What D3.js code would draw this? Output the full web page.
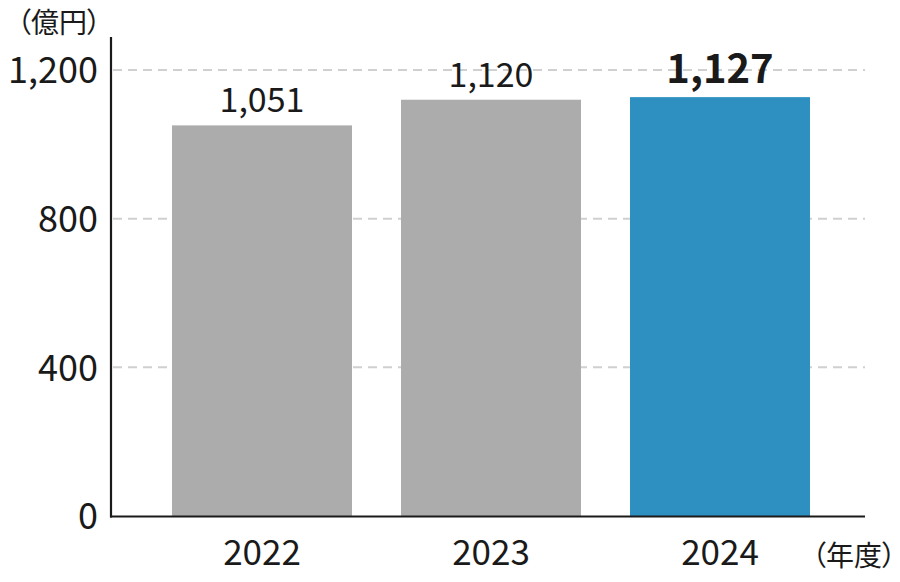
<!DOCTYPE html>
<html>
<head>
<meta charset="utf-8">
<script src="https://cdn.jsdelivr.net/npm/d3@7"></script>
<style>
  html, body { margin: 0; padding: 0; background: #fff; }
  svg { display: block; font-family: "Noto Sans CJK JP", "Noto Sans", sans-serif; }
  .unit { font-feature-settings: "palt" 1; }
</style>
</head>
<body>
<svg id="chart" width="900" height="582"></svg>
<script>
const years = ["2022", "2023", "2024"];
const values = [1051, 1120, 1127];
const valueLabels = ["1,051", "1,120", "1,127"];
const highlight = [false, false, true];
const yTicks = [0, 400, 800, 1200];
const yTickLabels = ["0", "400", "800", "1,200"];
const yUnit = "（億円）";
const xUnit = "（年度）";

const svg = d3.select("#chart");
const ink = "#1a1a1a";

const x = d3.scaleBand()
  .domain(years)
  .range([147.5, 834.5])
  .paddingInner(0.214)
  .paddingOuter(0.107);

const y = d3.scaleLinear().domain([0, 1200]).range([516, 70]);

// gridlines
svg.append("g")
  .selectAll("line")
  .data(yTicks.filter(d => d > 0))
  .join("line")
  .attr("x1", 113).attr("x2", 865)
  .attr("y1", d => y(d)).attr("y2", d => y(d))
  .attr("stroke", "#d0d0d0")
  .attr("stroke-width", 2)
  .attr("stroke-dasharray", "9 6");

// bars
svg.append("g")
  .selectAll("rect")
  .data(years)
  .join("rect")
  .attr("x", d => x(d))
  .attr("width", x.bandwidth())
  .attr("y", (d, i) => y(values[i]))
  .attr("height", (d, i) => y(0) - y(values[i]))
  .attr("fill", (d, i) => highlight[i] ? "#2e8fc1" : "#acacac");

// value labels
svg.append("g")
  .selectAll("text")
  .data(years)
  .join("text")
  .attr("x", d => x(d) + x.bandwidth() / 2)
  .attr("y", (d, i) => y(values[i]) - (highlight[i] ? 14 : 13))
  .attr("text-anchor", "middle")
  .attr("font-size", (d, i) => highlight[i] ? 40 : 34)
  .attr("font-weight", (d, i) => highlight[i] ? 700 : 400)
  .attr("fill", ink)
  .text((d, i) => valueLabels[i]);

// x axis
const xAxis = d3.axisBottom(x).tickSize(0).tickPadding(0);
const gx = svg.append("g").attr("transform", `translate(0,${y(0)})`).call(xAxis);
gx.select(".domain").remove();
gx.selectAll("text")
  .attr("font-size", 35)
  .attr("fill", ink)
  .attr("dy", null)
  .attr("y", 49)
  .style("font-family", "'Noto Sans CJK JP', sans-serif");
svg.append("line")
  .attr("x1", 110).attr("x2", 865)
  .attr("y1", y(0) + 0.5).attr("y2", y(0) + 0.5)
  .attr("stroke", ink).attr("stroke-width", 2.2);

// y axis
const yAxis = d3.axisLeft(y).tickValues(yTicks).tickSize(0).tickPadding(0)
  .tickFormat((d, i) => yTickLabels[i]);
const gy = svg.append("g").attr("transform", "translate(98,0)").call(yAxis);
gy.select(".domain").remove();
gy.selectAll("text")
  .attr("font-size", 36)
  .attr("fill", ink)
  .attr("dy", "0.36em")
  .style("font-family", "'Noto Sans CJK JP', sans-serif");
svg.append("line")
  .attr("x1", 111).attr("x2", 111)
  .attr("y1", 37).attr("y2", y(0) + 1.5)
  .attr("stroke", ink).attr("stroke-width", 2.2);

// unit labels
svg.append("text")
  .attr("class", "unit")
  .attr("x", 59).attr("y", 33)
  .attr("text-anchor", "middle")
  .attr("font-size", 28)
  .attr("fill", ink)
  .text(yUnit);
svg.append("text")
  .attr("class", "unit")
  .attr("x", 854).attr("y", 566)
  .attr("text-anchor", "middle")
  .attr("font-size", 28)
  .attr("fill", ink)
  .text(xUnit);
</script>
</body>
</html>
